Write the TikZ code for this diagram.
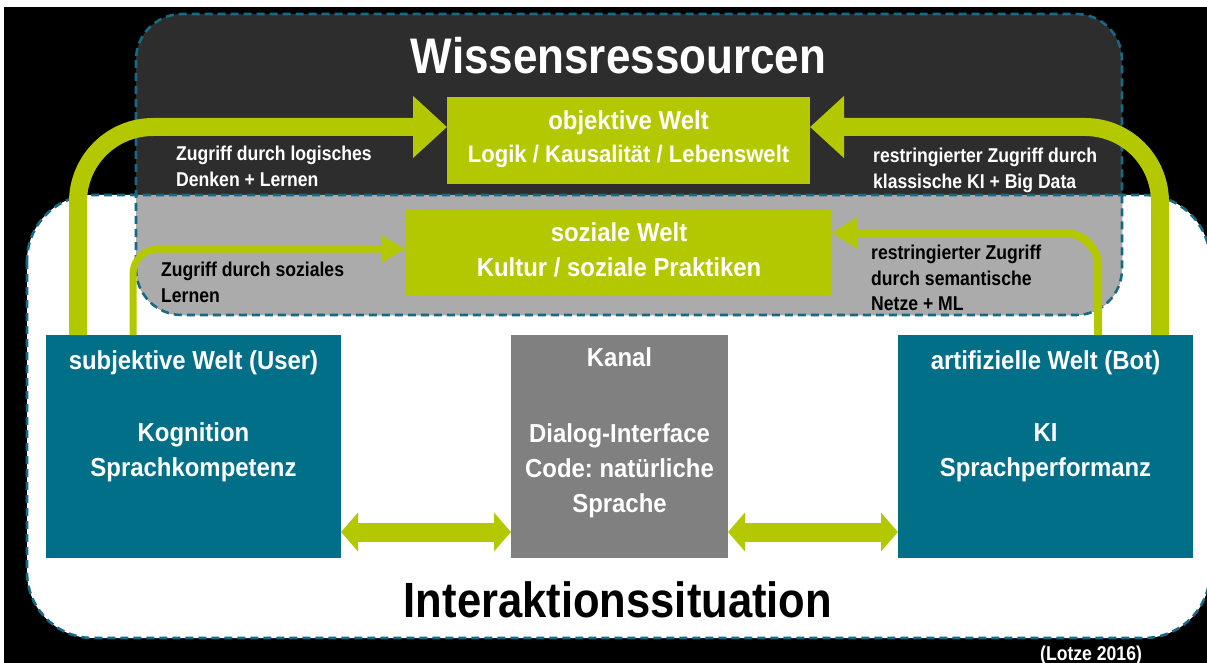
\documentclass[tikz,border=0pt]{standalone}
\usepackage{fontspec}
\setmainfont{Liberation Sans}
\newfontfamily\fa[FakeStretch=0.88]{Liberation Sans Bold}
\newfontfamily\fb[FakeStretch=0.92]{Liberation Sans Bold}
\usetikzlibrary{arrows.meta}
\definecolor{darkbg}{HTML}{2D2D2D}
\definecolor{overlapgray}{HTML}{ABABAB}
\definecolor{lime}{RGB}{180,200,0}
\definecolor{tealbox}{RGB}{0,111,135}
\definecolor{dashteal}{HTML}{176A85}
\definecolor{kanalgray}{HTML}{808080}
\frenchspacing
\begin{document}
\begin{tikzpicture}[x=1pt,y=-1pt,
  dashborder/.style={draw=dashteal, line width=2.6pt, dash pattern=on 8pt off 5pt},
  gbox/.style={fill=lime, inner sep=0pt, outer sep=0pt, anchor=north west},
  tbox/.style={fill=tealbox, inner sep=0pt, outer sep=0pt, anchor=north west},
  kbox/.style={fill=kanalgray, inner sep=0pt, outer sep=0pt, anchor=north west},
  btxt/.style={font=\fb\fontsize{26}{30}\selectfont, text=white, anchor=base, inner sep=0pt},
  otxt/.style={font=\fb\fontsize{24}{28}\selectfont, text=white, anchor=base, inner sep=0pt},
  lbl/.style={font=\fa\fontsize{20}{24}\selectfont, anchor=base west, inner sep=0pt},
  bigarrow/.style={draw=lime, line width=18pt, rounded corners=75pt, -{Triangle[width=60pt,length=34pt]}},
  smallarrowL/.style={draw=lime, line width=7pt, rounded corners=25pt, -{Triangle[width=25pt,length=24pt]}},
  smallarrowR/.style={draw=lime, line width=8pt, rounded corners=33pt, -{Triangle[width=30pt,length=25pt]}},
  dblarrow/.style={draw=lime, line width=19pt, {Triangle[width=38pt,length=17pt]}-{Triangle[width=38pt,length=17pt]}}
]
\useasboundingbox (0,0) rectangle (1207,663);
\fill[white] (0,0) rectangle (1207,663);
\fill[black] (4,7) rectangle (1207,663);
% containers
\fill[white, rounded corners=66pt] (27,195) rectangle (1210,638);
\fill[darkbg, rounded corners=46pt] (136,14) rectangle (1122,315);
\begin{scope}
  \clip[rounded corners=66pt] (27,195) rectangle (1210,638);
  \fill[overlapgray, rounded corners=46pt] (136,14) rectangle (1122,315);
\end{scope}
\draw[dashborder, rounded corners=66pt] (27,195) rectangle (1210,638);
\draw[dashborder, rounded corners=46pt] (136,14) rectangle (1122,315);
% titles
\node[font=\fa\fontsize{50}{60}\selectfont, text=white, anchor=base, inner sep=0pt] (title) at (618.5,74) {Wissensressourcen};
\node[font=\fa\fontsize{49.5}{60}\selectfont, text=black, anchor=base, inner sep=0pt] (inter) at (618,617) {Interaktionssituation};
% boxes
\node[gbox, minimum width=363pt, minimum height=87pt] (obj) at (447,97) {};
\node[gbox, minimum width=426pt, minimum height=87pt] (soz) at (406,209) {};
\node[tbox, minimum width=295pt, minimum height=223pt] (subj) at (46,335) {};
\node[kbox, minimum width=217pt, minimum height=223pt] (kanal) at (511,335) {};
\node[tbox, minimum width=295pt, minimum height=223pt] (art) at (898,335) {};
% box texts
\node[btxt] (objA) at (628.5,130) {objektive Welt};
\node[otxt] (objB) at (628.5,163) {Logik / Kausalität / Lebenswelt};
\node[btxt] (sozA) at (619,241.5) {soziale Welt};
\node[btxt] (sozB) at (619,276.5) {Kultur / soziale Praktiken};
\node[btxt] (subjA) at (193.5,369) {subjektive Welt (User)};
\node[btxt] (subjB) at (193.5,441) {Kognition};
\node[btxt] (subjC) at (193.5,476) {Sprachkompetenz};
\node[btxt] (kanA) at (619.5,366) {Kanal};
\node[btxt] (kanB) at (619.5,442) {Dialog-Interface};
\node[btxt] (kanC) at (619.5,477) {Code: natürliche};
\node[btxt] (kanD) at (619.5,512) {Sprache};
\node[btxt] (artA) at (1045.5,369) {artifizielle Welt (Bot)};
\node[btxt] (artB) at (1045.5,441) {KI};
\node[btxt] (artC) at (1045.5,476) {Sprachperformanz};
% labels
\node[lbl, text=white] (la1) at (176,160.5) {Zugriff durch logisches};
\node[lbl, text=white] (la2) at (176,186.5) {Denken + Lernen};
\node[lbl, text=black] (lb1) at (161,276) {Zugriff durch soziales};
\node[lbl, text=black] (lb2) at (161,302) {Lernen};
\node[lbl, text=white] (lc1) at (873,163) {restringierter Zugriff durch};
\node[lbl, text=white] (lc2) at (873,189) {klassische KI + Big Data};
\node[lbl, text=black] (ld1) at (871,259) {restringierter Zugriff};
\node[lbl, text=black] (ld2) at (871,285) {durch semantische};
\node[lbl, text=black] (ld3) at (871,310.5) {Netze + ML};
\node[lbl, text=white] (src) at (1040,660) {(Lotze 2016)};
% arrows
\draw[bigarrow] ([xshift=32pt]subj.north west) |- ([yshift=13.5pt]obj.west);
\draw[bigarrow] ([xshift=-33pt]art.north east) |- ([yshift=13.5pt]obj.east);
\draw[smallarrowL] ([xshift=87pt]subj.north west) |- ([yshift=3.5pt]soz.west);
\draw[smallarrowR] ([xshift=200pt]art.north west) |- ([yshift=19.5pt]soz.east);
\draw[dblarrow] ([yshift=-85.5pt]subj.east) -- ([yshift=-85.5pt]kanal.west);
\draw[dblarrow] ([yshift=-85.5pt]kanal.east) -- ([yshift=-85.5pt]art.west);
\end{tikzpicture}
\end{document}
